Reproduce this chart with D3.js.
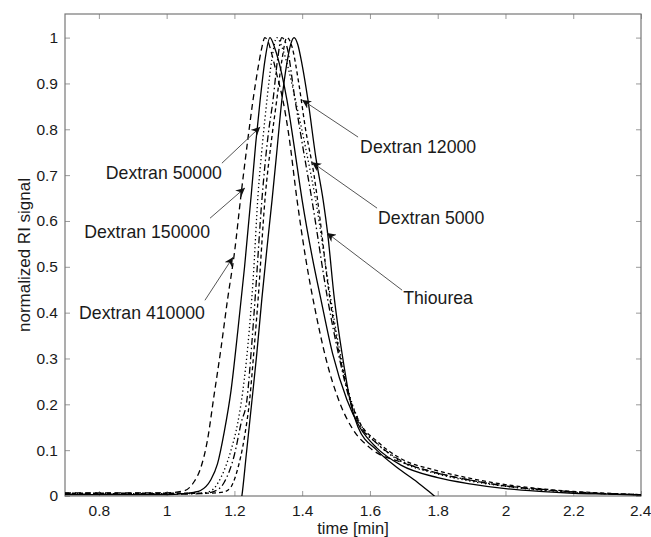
<!DOCTYPE html>
<html>
<head>
<meta charset="utf-8">
<script src="https://cdn.jsdelivr.net/npm/d3@7"></script>
<style>
  html, body { margin: 0; padding: 0; background: #fff; }
  svg { display: block; }
  text { font-family: "Liberation Sans", Arial, Helvetica, sans-serif; fill: #1a1a1a; }
</style>
</head>
<body>
<svg id="chart" width="651" height="537"></svg>
<script>
// ---------- data ----------
const xTicks = [0.8, 1, 1.2, 1.4, 1.6, 1.8, 2, 2.2, 2.4];
const yTicks = [0, 0.1, 0.2, 0.3, 0.4, 0.5, 0.6, 0.7, 0.8, 0.9, 1];

const t410000 = [0.70,0.90,1.00,1.05,1.08,1.10,1.12,1.14,1.16,1.18,1.20,1.22,1.24,1.255,1.27,1.28,1.29,1.30,1.31,1.325,1.343,1.36,1.385,1.41,1.44,1.47,1.51,1.55,1.60,1.70,1.80,1.90,2.00,2.10,2.20,2.30,2.40];
const y410000 = [0.007,0.007,0.007,0.011,0.030,0.060,0.120,0.220,0.320,0.430,0.530,0.660,0.780,0.864,0.935,0.975,1.000,0.990,0.965,0.920,0.864,0.790,0.645,0.520,0.400,0.300,0.205,0.145,0.105,0.072,0.050,0.034,0.022,0.015,0.009,0.005,0.003];

const t150000 = [0.70,0.90,1.00,1.05,1.08,1.10,1.13,1.15,1.17,1.19,1.21,1.23,1.25,1.263,1.276,1.29,1.305,1.32,1.34,1.355,1.375,1.40,1.43,1.455,1.49,1.532,1.57,1.62,1.69,1.80,1.90,2.00,2.10,2.20,2.30,2.40];
const y150000 = [0.003,0.003,0.003,0.005,0.008,0.012,0.035,0.070,0.140,0.230,0.360,0.500,0.660,0.770,0.864,0.950,1.000,0.975,0.920,0.864,0.770,0.645,0.520,0.430,0.310,0.210,0.150,0.105,0.068,0.040,0.026,0.016,0.010,0.006,0.004,0.002];

const t50000 = [0.70,0.90,1.00,1.10,1.13,1.16,1.19,1.21,1.225,1.24,1.255,1.27,1.283,1.296,1.31,1.325,1.34,1.36,1.38,1.41,1.44,1.48,1.51,1.54,1.57,1.62,1.69,1.80,1.90,2.00,2.10,2.20,2.30,2.40];
const y50000 = [0.005,0.005,0.005,0.006,0.011,0.040,0.100,0.160,0.230,0.330,0.470,0.660,0.770,0.864,0.950,1.000,0.980,0.930,0.864,0.760,0.645,0.450,0.320,0.220,0.160,0.115,0.076,0.048,0.032,0.021,0.013,0.008,0.005,0.003];

const t12000 = [0.70,0.90,1.00,1.10,1.14,1.17,1.20,1.22,1.237,1.25,1.262,1.281,1.30,1.314,1.327,1.34,1.355,1.379,1.40,1.429,1.475,1.51,1.54,1.57,1.62,1.69,1.80,1.90,2.00,2.10,2.20,2.30,2.40];
const y12000 = [0.004,0.004,0.004,0.005,0.010,0.030,0.090,0.160,0.210,0.320,0.440,0.645,0.790,0.864,0.950,1.000,0.980,0.864,0.770,0.645,0.430,0.300,0.210,0.155,0.115,0.078,0.050,0.034,0.022,0.014,0.009,0.005,0.003];

const t5000 = [0.70,0.90,1.00,1.10,1.15,1.17,1.19,1.21,1.23,1.245,1.258,1.27,1.29,1.31,1.325,1.34,1.355,1.37,1.39,1.41,1.435,1.45,1.478,1.51,1.54,1.57,1.62,1.69,1.80,1.90,2.00,2.10,2.20,2.30,2.40];
const y5000 = [0.006,0.006,0.006,0.006,0.007,0.009,0.020,0.060,0.130,0.210,0.320,0.430,0.645,0.780,0.864,0.950,1.000,0.980,0.900,0.800,0.700,0.620,0.450,0.310,0.215,0.160,0.120,0.082,0.055,0.038,0.025,0.016,0.010,0.006,0.003];

const tThiourea = [1.205,1.222,1.235,1.252,1.266,1.281,1.296,1.311,1.325,1.34,1.355,1.366,1.376,1.387,1.40,1.417,1.44,1.462,1.475,1.495,1.52,1.541,1.565,1.62,1.68,1.74,1.79,1.81];
const yThiourea = [-0.05,0.000,0.090,0.210,0.310,0.430,0.540,0.645,0.750,0.864,0.945,0.985,1.000,0.985,0.940,0.864,0.740,0.645,0.574,0.430,0.300,0.210,0.150,0.100,0.062,0.030,0.000,-0.012];

const seriesNames = ["Dextran 410000","Dextran 150000","Dextran 50000","Dextran 12000","Dextran 5000","Thiourea"];
const seriesTimes = [t410000, t150000, t50000, t12000, t5000, tThiourea];
const seriesValues = [y410000, y150000, y50000, y12000, y5000, yThiourea];
const seriesDash = ["6,4", null, "1.3,2.7", "7,3,1.5,3", "4,3", null];

// annotation labels: text, label anchor (time, value), arrow tail, arrow tip
const annLabels = ["Dextran 12000","Dextran 5000","Thiourea","Dextran 50000","Dextran 150000","Dextran 410000"];
const annAnchor = ["start","start","start","end","end","end"];
const annTextT = [1.571, 1.624, 1.698, 1.163, 1.128, 1.113];
const annTextY = [0.761, 0.606, 0.432, 0.704, 0.575, 0.399];
const annTailT = [1.565, 1.621, 1.695, 1.163, 1.128, 1.113];
const annTailY = [0.783, 0.628, 0.449, 0.726, 0.606, 0.427];
const annTipT  = [1.400, 1.429, 1.473, 1.276, 1.231, 1.196];
const annTipY  = [0.864, 0.728, 0.574, 0.805, 0.672, 0.521];

// ---------- layout ----------
const svg = d3.select("#chart");
const L = 65, R = 641, T = 14, B = 496;
const x = d3.scaleLinear().domain([0.7, 2.4]).range([L, R]);
const y = d3.scaleLinear().domain([0, 1.0515]).range([B, T]);

const defs = svg.append("defs");
defs.append("clipPath").attr("id", "clip")
  .append("rect").attr("x", L).attr("y", T).attr("width", R - L).attr("height", B - T);
defs.append("marker").attr("id", "arrow")
  .attr("viewBox", "0 0 10 10").attr("refX", 10).attr("refY", 5)
  .attr("markerWidth", 9).attr("markerHeight", 9).attr("markerUnits", "userSpaceOnUse")
  .attr("orient", "auto")
  .append("path").attr("d", "M0,0 L10,5 L0,10 L3,5 Z").attr("fill", "#111");

// axes (MATLAB-style inward ticks on all sides)
const tickFont = 15.5;
const gx = svg.append("g").attr("transform", `translate(0,${B})`)
  .call(d3.axisBottom(x).tickValues(xTicks).tickSize(-5).tickPadding(9)
    .tickFormat(d => String(+d.toFixed(1))));
const gxTop = svg.append("g").attr("transform", `translate(0,${T})`)
  .call(d3.axisTop(x).tickValues(xTicks).tickSize(-5).tickFormat(""));
const gy = svg.append("g").attr("transform", `translate(${L},0)`)
  .call(d3.axisLeft(y).tickValues(yTicks).tickSize(-5).tickPadding(7)
    .tickFormat(d => String(+d.toFixed(1))));
const gyR = svg.append("g").attr("transform", `translate(${R},0)`)
  .call(d3.axisRight(y).tickValues(yTicks).tickSize(-5).tickFormat(""));

[gx, gxTop, gy, gyR].forEach(g => {
  g.select(".domain").remove();
  g.selectAll(".tick line").attr("stroke", "#9a9a9a").attr("stroke-width", 1);
  g.selectAll(".tick text").attr("font-size", tickFont)
    .attr("font-family", '"Liberation Sans", Arial, sans-serif').attr("fill", "#1a1a1a");
});
// keep the last x label inside the picture
gx.selectAll(".tick text").filter(d => d === 2.4).attr("text-anchor", "end").attr("x", 10);

svg.append("rect").attr("x", L).attr("y", T).attr("width", R - L).attr("height", B - T)
  .attr("fill", "none").attr("stroke", "#777").attr("stroke-width", 1.2);

// axis titles
svg.append("text").attr("x", (L + R) / 2).attr("y", 534)
  .attr("text-anchor", "middle").attr("font-size", 16.5).text("time [min]");
svg.append("text").attr("transform", `translate(24,${(T + B) / 2}) rotate(-90)`)
  .attr("text-anchor", "middle").attr("dominant-baseline", "central")
  .attr("font-size", 17).text("normalized RI signal");

// curves
const line = d3.line().x(d => x(d[0])).y(d => y(d[1])).curve(d3.curveMonotoneX);
const plot = svg.append("g").attr("clip-path", "url(#clip)");
seriesNames.forEach((name, i) => {
  const pts = seriesTimes[i].map((t, j) => [t, seriesValues[i][j]]);
  plot.append("path").datum(pts)
    .attr("d", line).attr("fill", "none").attr("stroke", "#000")
    .attr("stroke-width", 1.3)
    .attr("stroke-dasharray", seriesDash[i])
    .attr("class", "series").attr("data-name", name);
});

// annotations
const ann = svg.append("g");
annLabels.forEach((lab, i) => {
  ann.append("line")
    .attr("x1", x(annTailT[i])).attr("y1", y(annTailY[i]))
    .attr("x2", x(annTipT[i])).attr("y2", y(annTipY[i]))
    .attr("stroke", "#555").attr("stroke-width", 1).attr("marker-end", "url(#arrow)");
  ann.append("text").attr("x", x(annTextT[i])).attr("y", y(annTextY[i]))
    .attr("text-anchor", annAnchor[i]).attr("dominant-baseline", "central")
    .attr("font-size", 17.7).text(lab);
});
</script>
</body>
</html>
